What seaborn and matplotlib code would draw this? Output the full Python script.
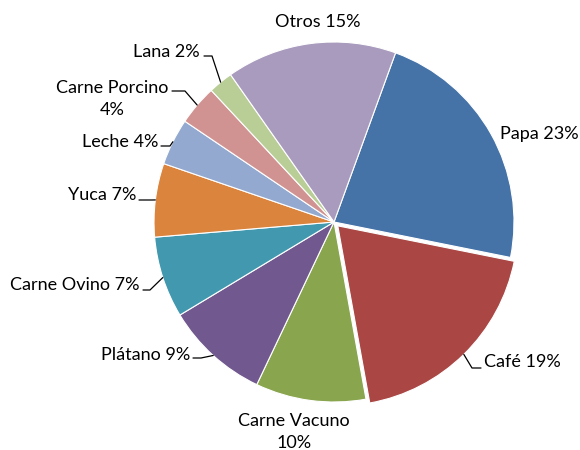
import numpy as np
import matplotlib
matplotlib.use("Agg")
import matplotlib.pyplot as plt
import seaborn as sns

# Data (share of production)
categories = ["Papa", "Café", "Carne Vacuno", "Plátano", "Carne Ovino",
              "Yuca", "Leche", "Carne Porcino", "Lana", "Otros"]
values = [22.6, 19.0, 9.9, 9.3, 7.3, 6.6, 4.2, 3.6, 2.2, 15.3]
label_names = ["Papa", "Café", "Carne Vacuno\n", "Plátano", "Carne Ovino",
               "Yuca", "Leche", "Carne Porcino\n", "Lana", "Otros"]

colors = ["#4572A7", "#AA4643", "#89A54E", "#71588F", "#4198AF",
          "#DB843D", "#93A9CF", "#D19392", "#B9CD96", "#A99BBD"]
explode = [0, 0.03, 0, 0, 0, 0, 0, 0, 0, 0]

sns.set_theme(style="white")
plt.rcParams["font.family"] = ["Lato", "DejaVu Sans"]

# layout: pixel geometry of the pie and label placement
W, H = 580, 450
CX, CY, R = 334, 222, 180


def to_data(px, py):
    return (px - CX) / R, (CY - py) / R


# text anchor (px), horizontal alignment, leader (x_far, x_near, y) in px
label_pos = [
    ((500, 134), "left", None),
    ((484, 362), "left", (472, 481, 368)),
    ((294, 432), "center", None),
    ((190, 355), "right", (201, 193, 358)),
    ((140, 285), "right", (150, 143, 290)),
    ((136, 195), "right", (152, 139, 200)),
    ((158, 142), "right", (170, 161, 146)),
    ((112, 99), "center", (185, 172, 91)),
    ((200, 52), "right", (212, 204, 56)),
    ((318, 22), "center", None),
]

fig = plt.figure(figsize=(W / 100, H / 100), dpi=100)
ax = fig.add_axes([0, 0, 1, 1])

wedges, _ = ax.pie(values, colors=colors, explode=explode, startangle=70,
                   counterclock=False, radius=1,
                   wedgeprops=dict(edgecolor="white", linewidth=0.8))

total = sum(values)
for i, w in enumerate(wedges):
    pct = f"{round(values[i] / total * 100):.0f}%"
    name = label_names[i]
    txt = name + pct if name.endswith("\n") else f"{name} {pct}"
    (px, py), ha, leader = label_pos[i]
    tx, ty = to_data(px, py)
    ax.text(tx, ty, txt, ha=ha, va="center", fontsize=13,
            color="black", linespacing=1.45, multialignment="center")
    if leader is not None:
        mid = np.deg2rad((w.theta1 + w.theta2) / 2)
        ex = w.center[0] + w.r * np.cos(mid)
        ey = w.center[1] + w.r * np.sin(mid)
        fx, fy = to_data(leader[0], leader[2])
        nx, ny = to_data(leader[1], leader[2])
        ax.plot([ex, fx, nx], [ey, fy, ny], color="black", lw=0.9)

x0, y0 = to_data(0, H)
x1, y1 = to_data(W, 0)
ax.set_xlim(x0, x1)
ax.set_ylim(y0, y1)
ax.set_aspect("auto")
ax.axis("off")

fig.savefig("out.png", dpi=100, facecolor="white")
plt.close(fig)
